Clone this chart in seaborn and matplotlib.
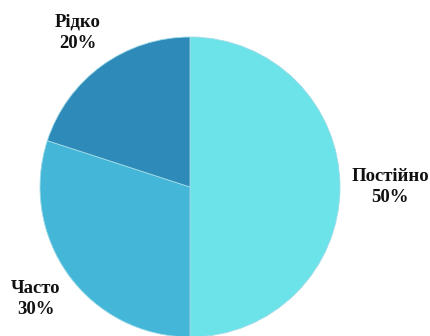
import numpy as np
import matplotlib
matplotlib.use("Agg")
import matplotlib.pyplot as plt
import seaborn as sns

categories = ["Постійно", "Часто", "Рідко"]
shares = [50, 30, 20]
colors = ["#6be3e8", "#44b7d8", "#2e8bb9"]

sns.set_theme(style="white")
plt.rcParams["font.family"] = ["Liberation Serif", "DejaVu Serif"]

W, H = 430, 336
CX, CY, R = 190, H - 187, 150
label_dist = [1.335, 1.27, 1.27]

fig = plt.figure(figsize=(W / 100, H / 100), dpi=100)
ax = fig.add_axes([0, 0, 1, 1])

labels = [f"{c}\n{v}%" for c, v in zip(categories, shares)]
wedges, texts = ax.pie(
    shares,
    labels=labels,
    colors=sns.color_palette(colors),
    startangle=90,
    counterclock=False,
    center=(CX, CY),
    radius=R,
    wedgeprops=dict(linewidth=0.6, edgecolor="#9fdbe8"),
    textprops=dict(fontsize=13.5, fontweight="bold", color="#111111"),
    frame=True,
)
for w, t, d in zip(wedges, texts, label_dist):
    mid = np.deg2rad((w.theta1 + w.theta2) / 2)
    t.set_position((CX + d * R * np.cos(mid), CY + d * R * np.sin(mid)))
    t.set_horizontalalignment("center")
    t.set_verticalalignment("center")
    t.set_linespacing(1.32)

ax.set_xlim(0, W)
ax.set_ylim(0, H)
ax.set_aspect("equal")
ax.axis("off")

fig.savefig("out.png", dpi=100)
